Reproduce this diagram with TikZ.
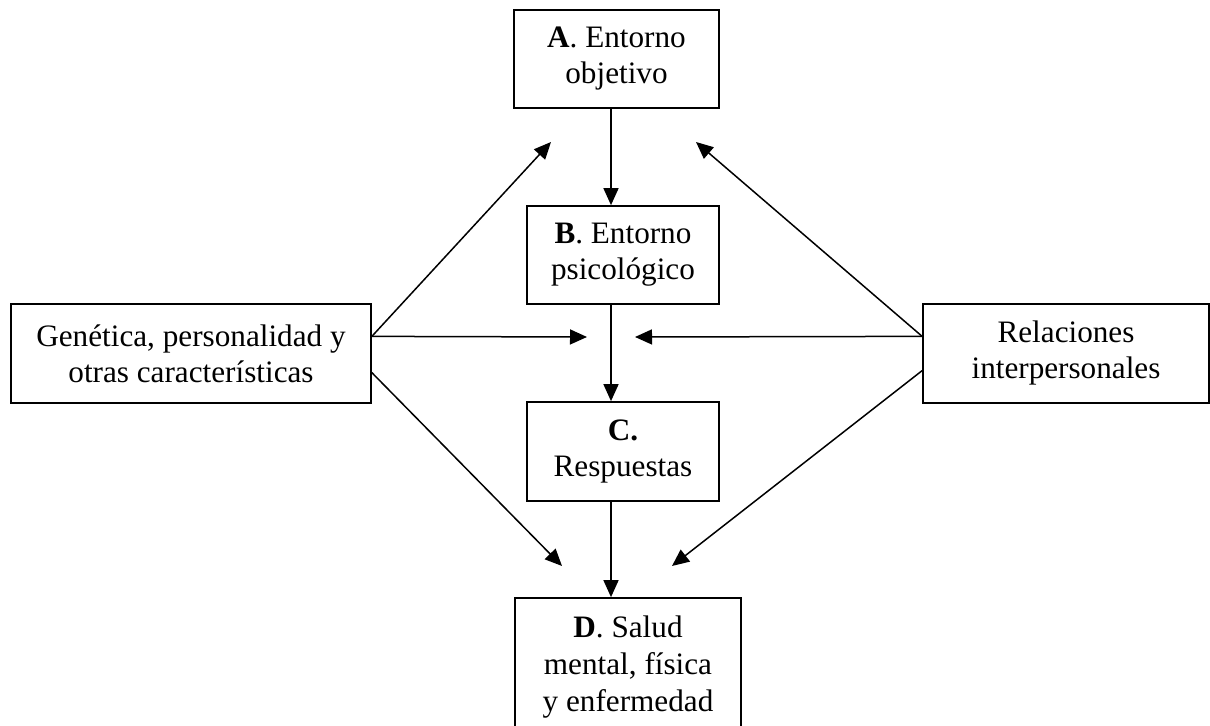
\documentclass[tikz,border=0pt]{standalone}
\usepackage{fontspec}
\setmainfont{Liberation Serif}
\usetikzlibrary{arrows.meta,calc}

\begin{document}
\begin{tikzpicture}[x=0.5pt,y=-0.5pt,
  box/.style={draw=black,line width=0.85pt,align=center,inner sep=0pt,
    font=\fontsize{15.6}{18}\selectfont},
  link/.style={line width=0.75pt,-{Triangle[length=8.5pt,width=7.5pt]}}]
  \useasboundingbox (0,0) rectangle (1210,726);

  % central chain
  \node[box,minimum width=102.5pt,minimum height=49pt] (A) at (616.5,59)
    {\textbf{A}. Entorno\\objetivo};
  \node[box,minimum width=96pt,minimum height=49pt] (B) at (623,255)
    {\textbf{B}. Entorno\\psicológico};
  \node[box,minimum width=96pt,minimum height=49.5pt] (C) at (623,451.5)
    {\textbf{C.}\\Respuestas};
  \node[box,minimum width=113pt,minimum height=69pt,
    font=\fontsize{15.6}{18.5}\selectfont] (D) at (628,667)
    {\textbf{D}. Salud\\mental, física\\y enfermedad};

  % side factors
  \node[box,minimum width=180pt,minimum height=49.5pt] (L) at (191,353.5)
    {Genética, personalidad y\\otras características};
  \node[box,minimum width=143pt,minimum height=49.5pt] (R) at (1066,353.5)
    {Relaciones\\interpersonales};

  % axis of the vertical arrows and free arrow ends
  \coordinate (col) at (611,0);
  \coordinate (tAL) at (551,142);
  \coordinate (tAR) at (696,142);
  \coordinate (tBL) at (587,337);
  \coordinate (tBR) at (635,337);
  \coordinate (tDL) at (562,566);
  \coordinate (tDR) at (672,566);

  % start points on the side boxes
  \coordinate (Lu) at ($(L.north east)!0.33!(L.south east)$);
  \coordinate (Ld) at ($(L.north east)!0.69!(L.south east)$);
  \coordinate (Ru) at ($(R.north west)!0.33!(R.south west)$);
  \coordinate (Rd) at ($(R.north west)!0.67!(R.south west)$);

  \draw[link] (A.south -| col) -- (B.north -| col);
  \draw[link] (B.south -| col) -- (C.north -| col);
  \draw[link] (C.south -| col) -- (D.north -| col);

  \draw[link] (Lu) -- (tAL);
  \draw[link] (Lu) -- (tBL);
  \draw[link] (Ld) -- (tDL);

  \draw[link] (Ru) -- (tAR);
  \draw[link] (Ru) -- (tBR);
  \draw[link] (Rd) -- (tDR);
\end{tikzpicture}
\end{document}
